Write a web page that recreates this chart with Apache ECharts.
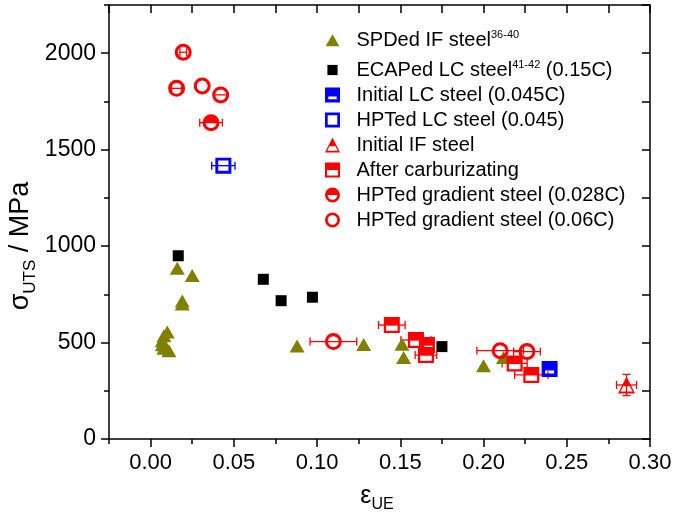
<!DOCTYPE html>
<html><head><meta charset="utf-8">
<script src="https://cdn.jsdelivr.net/npm/echarts@6/dist/echarts.min.js"></script>
<style>html,body{margin:0;padding:0;background:#fff}#c{width:675px;height:519px}</style>
</head><body><div id="c"></div>
<script>
// ---- data ----
const xLabels = ['0.00','0.05','0.10','0.15','0.20','0.25','0.30'];
const yLabels = ['0','500','1000','1500','2000'];
const legendNames = ['SPDed IF steel','ECAPed LC steel','Initial LC steel (0.045C)','HPTed LC steel (0.045)','Initial IF steel','After carburizating','HPTed gradient steel (0.028C)','HPTed gradient steel (0.06C)'];
const legendSup = ['36-40','41-42','','','','','',''];
const legendTail = ['','(0.15C)','','','','','',''];

const spdIF = [[0.016,885],[0.025,847],[0.019,715],[0.019,700],[0.010,555],[0.008,535],[0.007,510],[0.007,488],[0.008,470],[0.011,458],[0.088,482],[0.128,490],[0.151,491],[0.152,422],[0.200,380],[0.212,422]];
const ecapLC = [[0.0166,950],[0.0677,828],[0.0784,717],[0.0972,735],[0.175,479]];
const initLC = [[0.2397,363]];
const hptLC = [[0.0437,1417]];
const hptLCxErr = [0.007];
const initIF = [[0.2859,280]];
const initIFxErr = [0.006];
const initIFyErr = [55];
const carb = [[0.1449,591],[0.1594,513],[0.166,487],[0.1654,435],[0.2187,392],[0.2287,332]];
const carbXErr = [0.008,0.009,0.004,0.0065,0.0075,0.01];
const hpt028 = [[0.0363,1640]];
const hpt028XErr = [0.0068];
const hpt06 = [[0.0196,2005],[0.0156,1818],[0.031,1830],[0.0421,1784],[0.1098,505],[0.21,458],[0.2261,453]];
const hpt06XErr = [0.002,0.003,0,0.004,0.014,0.014,0.008];

// ---- layout ----
const X0 = 109, XW = 541, YT = 5, YH = 434;
const XMIN = -0.025, XMAX = 0.30, YMAX = 2250;
const g1Left = X0 + XW * (0 - XMIN) / (XMAX - XMIN);
const g1W = XW * (0.30 - 0) / (XMAX - XMIN);
const g2H = YH * 2000 / YMAX;
const g2Top = YT + YH - g2H;
const FONT = 'Liberation Sans, Arial, sans-serif';

const RED = '#ff0000', BLUE = '#0000ff', OLIVE = '#808000';
const halfSquare = 'path://M0,0H100V100H0Z M14,14V86H86V14Z M14,14H86V50H14Z';
const lcSquare = 'path://M0,0H100V100H0Z M22,22V78H78V22Z M22,22H78V60H22Z';
const openSquare = 'path://M0,0H100V100H0Z M18,18V82H82V18Z';
const ring = 'path://M50,0A50,50 0 1,1 50,100A50,50 0 1,1 50,0Z M50,18A32,32 0 1,0 50,82A32,32 0 1,0 50,18Z';
const halfCircle = 'path://M50,0A50,50 0 1,1 50,100A50,50 0 1,1 50,0Z M50,18A32,32 0 1,0 50,82A32,32 0 1,0 50,18Z M50,18A32,32 0 0,1 82,50H18A32,32 0 0,1 50,18Z';
const halfTri = 'path://M50,0L100,100L0,100Z M50,24L14,88L86,88Z M50,24L69,58L31,58Z';
// legend-only icons (padded box so they draw smaller)
const legTri = 'path://M0,0L0,0M100,100L100,100M50,12L96,92L4,92Z';
const legRect = 'path://M0,0L0,0M100,100L100,100M16,16H84V84H16Z';

function withErr(pts, xe, ye) {
  return pts.map((p, i) => [p[0], p[1], xe ? xe[i] : 0, ye ? ye[i] : 0]);
}

function errSeries(data, color) {
  return {
    type: 'custom', xAxisIndex: 0, yAxisIndex: 0, z: 1, silent: true,
    data: data,
    encode: { x: 0, y: 1 },
    renderItem: function (params, api) {
      const x = api.value(0), y = api.value(1), xe = api.value(2), ye = api.value(3);
      const ch = [];
      const st = { stroke: color, lineWidth: 1.3 };
      const cap = 4;
      if (xe > 0) {
        const a = api.coord([x - xe, y]), b = api.coord([x + xe, y]);
        ch.push({ type: 'line', shape: { x1: a[0], y1: a[1], x2: b[0], y2: b[1] }, style: st });
        ch.push({ type: 'line', shape: { x1: a[0], y1: a[1] - cap, x2: a[0], y2: a[1] + cap }, style: st });
        ch.push({ type: 'line', shape: { x1: b[0], y1: b[1] - cap, x2: b[0], y2: b[1] + cap }, style: st });
      }
      if (ye > 0) {
        const a = api.coord([x, y - ye]), b = api.coord([x, y + ye]);
        ch.push({ type: 'line', shape: { x1: a[0], y1: a[1], x2: b[0], y2: b[1] }, style: st });
        ch.push({ type: 'line', shape: { x1: a[0] - cap, y1: a[1], x2: a[0] + cap, y2: a[1] }, style: st });
        ch.push({ type: 'line', shape: { x1: b[0] - cap, y1: b[1], x2: b[0] + cap, y2: b[1] }, style: st });
      }
      return { type: 'group', children: ch };
    }
  };
}

function sc(name, data, symbol, size, color) {
  return {
    type: 'scatter', name: name, xAxisIndex: 0, yAxisIndex: 0, z: 3,
    data: data, symbol: symbol, symbolSize: size, symbolKeepAspect: true,
    itemStyle: { color: color, opacity: 1, borderWidth: 0 },
    emphasis: { disabled: true }
  };
}

const axLine = { show: true, onZero: false, lineStyle: { color: '#000', width: 1.5 } };
const tk = (len, inside) => ({ show: true, inside: inside, length: len, lineStyle: { color: '#000', width: 1.5 } });

const legendIcons = [legTri, legRect, lcSquare, openSquare, halfTri, halfSquare, halfCircle, ring];
const legendRich = {
  g: { width: 11 },
  t: { fontFamily: FONT, fontSize: 20, color: '#000', lineHeight: 22 },
  s: { fontFamily: FONT, fontSize: 11, color: '#000', verticalAlign: 'top', lineHeight: 11 }
};
function legendFmt(name) {
  const i = legendNames.indexOf(name);
  let s = '{g|}{t|' + name + '}';
  if (legendSup[i]) s += '{s|' + legendSup[i] + '}';
  if (legendTail[i]) s += '{t| ' + legendTail[i] + '}';
  return s;
}
function makeLegend(from, to, top) {
  return {
    orient: 'vertical', left: 320, top: top, itemWidth: 16, itemHeight: 15, itemGap: 5,
    selectedMode: false,
    data: legendNames.slice(from, to).map((n, k) => ({ name: n, icon: legendIcons[from + k] })),
    formatter: legendFmt,
    textStyle: { fontFamily: FONT, fontSize: 20, color: '#000', rich: legendRich }
  };
}

const chart = echarts.init(document.getElementById('c'), null, { renderer: 'canvas' });
chart.setOption({
  animation: false,
  backgroundColor: '#fff',
  grid: [
    { left: X0, top: YT, width: XW, height: YH },
    { left: g1Left, top: YT, width: g1W, height: YH },
    { left: X0, top: g2Top, width: XW, height: g2H }
  ],
  xAxis: [
    { gridIndex: 0, type: 'value', min: XMIN, max: XMAX, interval: 0.025, position: 'bottom',
      axisLine: axLine, axisTick: tk(5, false), axisLabel: { show: false }, splitLine: { show: false } },
    { gridIndex: 0, type: 'value', min: XMIN, max: XMAX, interval: 0.025, position: 'top',
      axisLine: axLine, axisTick: tk(8, true), axisLabel: { show: false }, splitLine: { show: false } },
    { gridIndex: 1, type: 'value', min: 0, max: 0.30, interval: 0.05, position: 'bottom',
      axisLine: { show: false, onZero: false }, axisTick: tk(8, false), splitLine: { show: false },
      axisLabel: { show: true, fontSize: 22, fontFamily: FONT, color: '#000', margin: 13,
        formatter: v => xLabels[Math.round(v / 0.05)] } },
    { gridIndex: 2, type: 'value', show: false, min: XMIN, max: XMAX, axisLine: { onZero: false } }
  ],
  yAxis: [
    { gridIndex: 0, type: 'value', min: 0, max: YMAX, interval: 250, position: 'left',
      axisLine: axLine, axisTick: tk(5, false), axisLabel: { show: false }, splitLine: { show: false } },
    { gridIndex: 0, type: 'value', min: 0, max: YMAX, interval: 250, position: 'right',
      axisLine: axLine, axisTick: tk(8, true), axisLabel: { show: false }, splitLine: { show: false } },
    { gridIndex: 2, type: 'value', min: 0, max: 2000, interval: 500, position: 'left',
      axisLine: { show: false, onZero: false }, axisTick: tk(8, false), splitLine: { show: false },
      axisLabel: { show: true, fontSize: 23, fontFamily: FONT, color: '#000', margin: 13,
        formatter: v => yLabels[Math.round(v / 500)] } },
    { gridIndex: 1, type: 'value', show: false, min: 0, max: YMAX, axisLine: { onZero: false } }
  ],
  legend: [makeLegend(0, 1, 24), makeLegend(1, 8, 54)],
  graphic: [
    { type: 'text', x: 22, y: 246, rotation: Math.PI / 2, silent: true,
      style: { text: '{a|σ}{b|UTS}{a| / MPa}', align: 'center', verticalAlign: 'middle',
        rich: {
          a: { fontFamily: FONT, fontSize: 27, color: '#000', verticalAlign: 'top', lineHeight: 29 },
          b: { fontFamily: FONT, fontSize: 17, color: '#000', verticalAlign: 'top', lineHeight: 17, padding: [14, 0, 0, 0] }
        } } },
    { type: 'text', x: 377, y: 497, silent: true,
      style: { text: '{a|ε}{b|UE}', align: 'center', verticalAlign: 'middle',
        rich: {
          a: { fontFamily: FONT, fontSize: 25, color: '#000', verticalAlign: 'top', lineHeight: 27 },
          b: { fontFamily: FONT, fontSize: 16, color: '#000', verticalAlign: 'top', lineHeight: 16, padding: [13, 0, 0, 0] }
        } } }
  ],
  series: [
    errSeries(withErr(hptLC, hptLCxErr), BLUE),
    errSeries(withErr(initIF, initIFxErr, initIFyErr), RED),
    errSeries(withErr(carb, carbXErr), RED),
    errSeries(withErr(hpt028, hpt028XErr), RED),
    errSeries(withErr(hpt06, hpt06XErr), RED),
    sc(legendNames[0], spdIF, 'triangle', [15, 13], OLIVE),
    sc(legendNames[1], ecapLC, 'rect', 11, '#000'),
    sc(legendNames[2], initLC, lcSquare, 16, BLUE),
    sc(legendNames[3], hptLC, openSquare, 16, BLUE),
    sc(legendNames[4], initIF, halfTri, 17, RED),
    sc(legendNames[5], carb, halfSquare, 16, RED),
    sc(legendNames[6], hpt028, halfCircle, 17, RED),
    sc(legendNames[7], hpt06, ring, 17, RED)
  ]
});
</script>
</body></html>
